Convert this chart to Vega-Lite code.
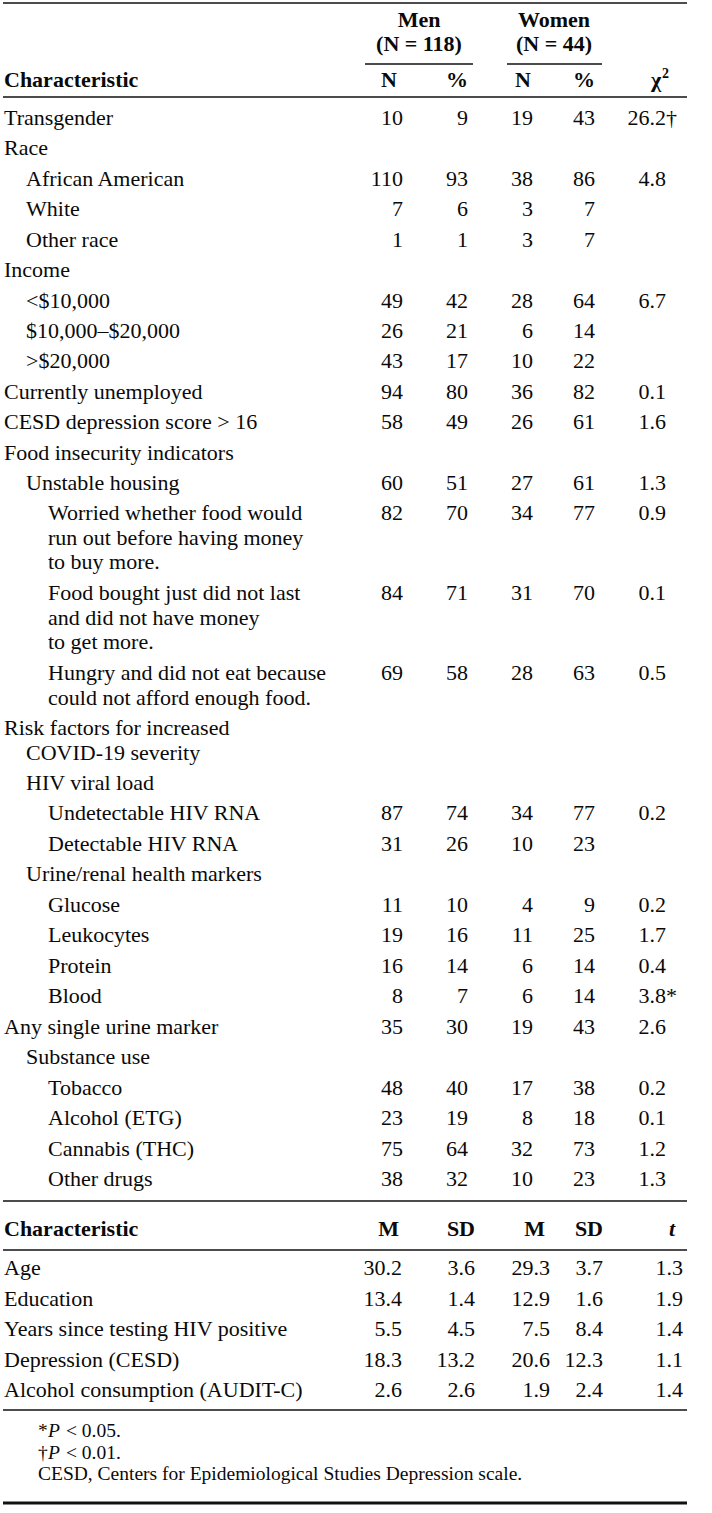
{
 "$schema": "https://vega.github.io/schema/vega-lite/v6.json",
 "width": 712, "height": 1513, "padding": 0, "autosize": {"type": "none"},
 "background": "white",
 "config": {"view": {"stroke": null}, "text": {"font": "Liberation Serif", "fontSize": 22, "color": "#0a0a0a"}},
 "datasets": {
  "rules": [{"r":-3.5,"c":0,"c2":21},{"r":-1.5,"c":17,"c2":18},{"r":-1.5,"c":19,"c2":20},{"r":-0.5,"c":0,"c2":21},{"r":30.5,"c":0,"c2":21},{"r":31.5,"c":0,"c2":21},{"r":36.5,"c":0,"c2":21}],
  "thick": [{"r":39.5,"c":0,"c2":21}],
  "headL": [{"r":-1,"c":1,"t":"Characteristic"},{"r":31,"c":1,"t":"Characteristic"}],
  "headR": [{"r":-1,"c":25,"t":"N"},{"r":-1,"c":6,"t":"%"},{"r":-1,"c":26,"t":"N"},{"r":-1,"c":8,"t":"%"},{"r":31,"c":28,"t":"M"},{"r":31,"c":11,"t":"SD"},{"r":31,"c":27,"t":"M"},{"r":31,"c":13,"t":"SD"}],
  "headC": [{"r":-3,"c":15,"t":"Men"},{"r":-3,"c":16,"t":"Women"},{"r":-2,"c":15,"t":"(N = 118)"},{"r":-2,"c":16,"t":"(N = 44)"},{"r":-1,"c":22,"t":"χ"}],
  "headSup": [{"r":-1,"c":24,"t":"2"}],
  "headI": [{"r":31,"c":23,"t":"t"}],
  "labels": [
   {"r":0,"c":1,"t":"Transgender"},{"r":1,"c":1,"t":"Race"},{"r":2,"c":2,"t":"African American"},{"r":3,"c":2,"t":"White"},{"r":4,"c":2,"t":"Other race"},
   {"r":5,"c":1,"t":"Income"},{"r":6,"c":2,"t":"<$10,000"},{"r":7,"c":2,"t":"$10,000–$20,000"},{"r":8,"c":2,"t":">$20,000"},
   {"r":9,"c":1,"t":"Currently unemployed"},{"r":10,"c":1,"t":"CESD depression score > 16"},{"r":11,"c":1,"t":"Food insecurity indicators"},
   {"r":12,"c":2,"t":"Unstable housing"},
   {"r":13,"c":3,"t":"Worried whether food would\nrun out before having money\nto buy more."},
   {"r":14,"c":3,"t":"Food bought just did not last\nand did not have money\nto get more."},
   {"r":15,"c":3,"t":"Hungry and did not eat because\ncould not afford enough food."},
   {"r":16,"c":1,"t":"Risk factors for increased"},
   {"r":17,"c":2,"t":"HIV viral load"},{"r":18,"c":3,"t":"Undetectable HIV RNA"},{"r":19,"c":3,"t":"Detectable HIV RNA"},
   {"r":20,"c":2,"t":"Urine/renal health markers"},{"r":21,"c":3,"t":"Glucose"},{"r":22,"c":3,"t":"Leukocytes"},{"r":23,"c":3,"t":"Protein"},{"r":24,"c":3,"t":"Blood"},
   {"r":25,"c":1,"t":"Any single urine marker"},{"r":26,"c":2,"t":"Substance use"},{"r":27,"c":3,"t":"Tobacco"},{"r":28,"c":3,"t":"Alcohol (ETG)"},{"r":29,"c":3,"t":"Cannabis (THC)"},{"r":30,"c":3,"t":"Other drugs"},
   {"r":32,"c":1,"t":"Age"},{"r":33,"c":1,"t":"Education"},{"r":34,"c":1,"t":"Years since testing HIV positive"},{"r":35,"c":1,"t":"Depression (CESD)"},{"r":36,"c":1,"t":"Alcohol consumption (AUDIT-C)"}
  ],
  "cont": [{"r":16,"c":2,"t":"COVID-19 severity"}],
  "cells": [
   {"r":0,"c":5,"t":"10"},{"r":0,"c":6,"t":"9"},{"r":0,"c":7,"t":"19"},{"r":0,"c":8,"t":"43"},{"r":0,"c":9,"t":"26.2"},
   {"r":2,"c":5,"t":"110"},{"r":2,"c":6,"t":"93"},{"r":2,"c":7,"t":"38"},{"r":2,"c":8,"t":"86"},{"r":2,"c":9,"t":"4.8"},
   {"r":3,"c":5,"t":"7"},{"r":3,"c":6,"t":"6"},{"r":3,"c":7,"t":"3"},{"r":3,"c":8,"t":"7"},
   {"r":4,"c":5,"t":"1"},{"r":4,"c":6,"t":"1"},{"r":4,"c":7,"t":"3"},{"r":4,"c":8,"t":"7"},
   {"r":6,"c":5,"t":"49"},{"r":6,"c":6,"t":"42"},{"r":6,"c":7,"t":"28"},{"r":6,"c":8,"t":"64"},{"r":6,"c":9,"t":"6.7"},
   {"r":7,"c":5,"t":"26"},{"r":7,"c":6,"t":"21"},{"r":7,"c":7,"t":"6"},{"r":7,"c":8,"t":"14"},
   {"r":8,"c":5,"t":"43"},{"r":8,"c":6,"t":"17"},{"r":8,"c":7,"t":"10"},{"r":8,"c":8,"t":"22"},
   {"r":9,"c":5,"t":"94"},{"r":9,"c":6,"t":"80"},{"r":9,"c":7,"t":"36"},{"r":9,"c":8,"t":"82"},{"r":9,"c":9,"t":"0.1"},
   {"r":10,"c":5,"t":"58"},{"r":10,"c":6,"t":"49"},{"r":10,"c":7,"t":"26"},{"r":10,"c":8,"t":"61"},{"r":10,"c":9,"t":"1.6"},
   {"r":12,"c":5,"t":"60"},{"r":12,"c":6,"t":"51"},{"r":12,"c":7,"t":"27"},{"r":12,"c":8,"t":"61"},{"r":12,"c":9,"t":"1.3"},
   {"r":13,"c":5,"t":"82"},{"r":13,"c":6,"t":"70"},{"r":13,"c":7,"t":"34"},{"r":13,"c":8,"t":"77"},{"r":13,"c":9,"t":"0.9"},
   {"r":14,"c":5,"t":"84"},{"r":14,"c":6,"t":"71"},{"r":14,"c":7,"t":"31"},{"r":14,"c":8,"t":"70"},{"r":14,"c":9,"t":"0.1"},
   {"r":15,"c":5,"t":"69"},{"r":15,"c":6,"t":"58"},{"r":15,"c":7,"t":"28"},{"r":15,"c":8,"t":"63"},{"r":15,"c":9,"t":"0.5"},
   {"r":18,"c":5,"t":"87"},{"r":18,"c":6,"t":"74"},{"r":18,"c":7,"t":"34"},{"r":18,"c":8,"t":"77"},{"r":18,"c":9,"t":"0.2"},
   {"r":19,"c":5,"t":"31"},{"r":19,"c":6,"t":"26"},{"r":19,"c":7,"t":"10"},{"r":19,"c":8,"t":"23"},
   {"r":21,"c":5,"t":"11"},{"r":21,"c":6,"t":"10"},{"r":21,"c":7,"t":"4"},{"r":21,"c":8,"t":"9"},{"r":21,"c":9,"t":"0.2"},
   {"r":22,"c":5,"t":"19"},{"r":22,"c":6,"t":"16"},{"r":22,"c":7,"t":"11"},{"r":22,"c":8,"t":"25"},{"r":22,"c":9,"t":"1.7"},
   {"r":23,"c":5,"t":"16"},{"r":23,"c":6,"t":"14"},{"r":23,"c":7,"t":"6"},{"r":23,"c":8,"t":"14"},{"r":23,"c":9,"t":"0.4"},
   {"r":24,"c":5,"t":"8"},{"r":24,"c":6,"t":"7"},{"r":24,"c":7,"t":"6"},{"r":24,"c":8,"t":"14"},{"r":24,"c":9,"t":"3.8"},
   {"r":25,"c":5,"t":"35"},{"r":25,"c":6,"t":"30"},{"r":25,"c":7,"t":"19"},{"r":25,"c":8,"t":"43"},{"r":25,"c":9,"t":"2.6"},
   {"r":27,"c":5,"t":"48"},{"r":27,"c":6,"t":"40"},{"r":27,"c":7,"t":"17"},{"r":27,"c":8,"t":"38"},{"r":27,"c":9,"t":"0.2"},
   {"r":28,"c":5,"t":"23"},{"r":28,"c":6,"t":"19"},{"r":28,"c":7,"t":"8"},{"r":28,"c":8,"t":"18"},{"r":28,"c":9,"t":"0.1"},
   {"r":29,"c":5,"t":"75"},{"r":29,"c":6,"t":"64"},{"r":29,"c":7,"t":"32"},{"r":29,"c":8,"t":"73"},{"r":29,"c":9,"t":"1.2"},
   {"r":30,"c":5,"t":"38"},{"r":30,"c":6,"t":"32"},{"r":30,"c":7,"t":"10"},{"r":30,"c":8,"t":"23"},{"r":30,"c":9,"t":"1.3"},
   {"r":32,"c":10,"t":"30.2"},{"r":32,"c":11,"t":"3.6"},{"r":32,"c":12,"t":"29.3"},{"r":32,"c":13,"t":"3.7"},{"r":32,"c":14,"t":"1.3"},
   {"r":33,"c":10,"t":"13.4"},{"r":33,"c":11,"t":"1.4"},{"r":33,"c":12,"t":"12.9"},{"r":33,"c":13,"t":"1.6"},{"r":33,"c":14,"t":"1.9"},
   {"r":34,"c":10,"t":"5.5"},{"r":34,"c":11,"t":"4.5"},{"r":34,"c":12,"t":"7.5"},{"r":34,"c":13,"t":"8.4"},{"r":34,"c":14,"t":"1.4"},
   {"r":35,"c":10,"t":"18.3"},{"r":35,"c":11,"t":"13.2"},{"r":35,"c":12,"t":"20.6"},{"r":35,"c":13,"t":"12.3"},{"r":35,"c":14,"t":"1.1"},
   {"r":36,"c":10,"t":"2.6"},{"r":36,"c":11,"t":"2.6"},{"r":36,"c":12,"t":"1.9"},{"r":36,"c":13,"t":"2.4"},{"r":36,"c":14,"t":"1.4"}
  ],
  "sig": [{"r":0,"c":9,"t":"†"},{"r":24,"c":9,"t":"*"}],
  "fn": [{"r":37,"c":4,"s":"*","t":"< 0.05."},{"r":38,"c":4,"s":"†","t":"< 0.01."}],
  "note": [{"r":39,"c":4,"t":"CESD, Centers for Epidemiological Studies Depression scale."}]
 },
 "encoding": {
  "x": {"field": "c", "type": "quantitative", "axis": null,
        "scale": {"domain": [0,1,2,3,4,5,6,7,8,9,10,11,12,13,14,15,16,17,18,19,20,21,22,23,24,25,26,27,28],
                  "range": [3,4,26,48,38,403,468,533,595,666,402,475,550,603,683,419,554,365,473,507,602,687,656,672,662,397,531,545,399],
                  "nice": false, "zero": false}},
  "y": {"field": "r", "type": "quantitative", "axis": null,
        "scale": {"domain": [-3.5,-3,-2,-1.5,-1,-0.5,0,12,13,14,15,16,17,30,30.5,31,31.5,32,36,36.5,37,39,39.5],
                  "range": [3,20,44,64,80,97,118,483,513,593,673,728,783,1179,1201,1229,1250,1268,1390,1410,1431,1474,1503],
                  "nice": false, "zero": false}}
 },
 "layer": [
  {"data": {"name": "rules"}, "mark": {"type": "rule", "color": "#111", "strokeWidth": 1.4}, "encoding": {"x2": {"field": "c2"}}},
  {"data": {"name": "thick"}, "mark": {"type": "rule", "color": "#111", "strokeWidth": 3}, "encoding": {"x2": {"field": "c2"}}},
  {"data": {"name": "headL"}, "mark": {"type": "text", "align": "left", "baseline": "alphabetic", "dy": 7, "fontWeight": "bold"}, "encoding": {"text": {"field": "t"}}},
  {"data": {"name": "headR"}, "mark": {"type": "text", "align": "right", "baseline": "alphabetic", "dy": 7, "fontWeight": "bold"}, "encoding": {"text": {"field": "t"}}},
  {"data": {"name": "headC"}, "mark": {"type": "text", "align": "center", "baseline": "alphabetic", "dy": 7, "fontWeight": "bold"}, "encoding": {"text": {"field": "t"}}},
  {"data": {"name": "headSup"}, "mark": {"type": "text", "align": "left", "baseline": "alphabetic", "dy": -2, "fontSize": 14, "fontWeight": "bold"}, "encoding": {"text": {"field": "t"}}},
  {"data": {"name": "headI"}, "mark": {"type": "text", "align": "center", "baseline": "alphabetic", "dy": 7, "fontWeight": "bold", "fontStyle": "italic"}, "encoding": {"text": {"field": "t"}}},
  {"data": {"name": "labels"}, "mark": {"type": "text", "align": "left", "baseline": "alphabetic", "dy": 7, "lineBreak": "\n", "lineHeight": 24.5}, "encoding": {"text": {"field": "t"}}},
  {"data": {"name": "cont"}, "mark": {"type": "text", "align": "left", "baseline": "alphabetic", "dy": 31.5}, "encoding": {"text": {"field": "t"}}},
  {"data": {"name": "cells"}, "mark": {"type": "text", "align": "right", "baseline": "alphabetic", "dy": 7}, "encoding": {"text": {"field": "t"}}},
  {"data": {"name": "sig"}, "mark": {"type": "text", "align": "left", "baseline": "alphabetic", "dy": 7}, "encoding": {"text": {"field": "t"}}},
  {"data": {"name": "fn"}, "mark": {"type": "text", "align": "left", "baseline": "alphabetic", "dy": 6, "fontSize": 19.5}, "encoding": {"text": {"field": "s"}}},
  {"data": {"name": "fn"}, "mark": {"type": "text", "align": "left", "baseline": "alphabetic", "dy": 6, "dx": 10, "fontSize": 19.5, "fontStyle": "italic"}, "encoding": {"text": {"value": "P"}}},
  {"data": {"name": "fn"}, "mark": {"type": "text", "align": "left", "baseline": "alphabetic", "dy": 6, "dx": 28, "fontSize": 19.5}, "encoding": {"text": {"field": "t"}}},
  {"data": {"name": "note"}, "mark": {"type": "text", "align": "left", "baseline": "alphabetic", "dy": 6, "fontSize": 19.5}, "encoding": {"text": {"field": "t"}}}
 ]
}
